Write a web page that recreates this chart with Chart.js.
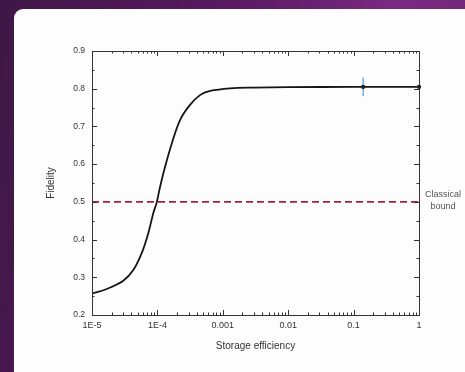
<!DOCTYPE html>
<html>
<head>
<meta charset="utf-8">
<script src="https://cdn.jsdelivr.net/npm/chart.js@4/dist/chart.umd.min.js"></script>
<style>
  html, body { margin: 0; padding: 0; }
  body {
    width: 465px; height: 372px; overflow: hidden; position: relative;
    background: linear-gradient(100deg, #3e1745 0%, #5a1a62 45%, #7a2a82 75%, #6a2472 100%);
  }
  #panel {
    position: absolute; left: 14px; top: 9px; width: 460px; height: 380px;
    background: #fdfdfd; border-radius: 9px;
  }
  #wrap { position: absolute; left: 0; top: 0; width: 465px; height: 372px; }
</style>
</head>
<body>
<div id="panel"></div>
<div id="wrap"><canvas id="chart" width="465" height="372"></canvas></div>
<script>
// fidelity vs storage efficiency
const efficiency = [1e-5, 1.68e-5, 3.01e-5, 4.28e-5, 5.75e-5, 7.26e-5, 8.65e-5, 9.75e-5,
    1.10e-4, 1.31e-4, 1.66e-4, 2.22e-4, 3.15e-4, 4.48e-4, 6.37e-4, 1.29e-3, 3e-3, 1e-2, 0.1, 1];
const fidelity = [0.257, 0.269, 0.291, 0.319, 0.364, 0.417, 0.47, 0.498,
    0.54, 0.593, 0.655, 0.717, 0.757, 0.783, 0.794, 0.801, 0.803, 0.804, 0.805, 0.805];

const boundX = [1e-5, 1];
const boundY = [0.5, 0.5];
const boundLabel = ['Classical', 'bound'];

const measX = [0.14, 1];
const measY = [0.805, 0.805];
const errLow = [0.78];
const errHigh = [0.83];

const xTicks = [1e-5, 1e-4, 1e-3, 1e-2, 1e-1, 1];
const xTickLabels = ['1E-5', '1E-4', '0.001', '0.01', '0.1', '1'];
const yTicks = [0.2, 0.3, 0.4, 0.5, 0.6, 0.7, 0.8, 0.9];

const xTitle = 'Storage efficiency';
const yTitle = 'Fidelity';

const FONT = '"Liberation Sans", Arial, sans-serif';
const AXIS = '#333';

// inward ticks on all four sides + the side label
const frameTicks = {
    id: 'frameTicks',
    afterDraw(chart) {
        const c = chart.ctx;
        const a = chart.chartArea;
        const xs = chart.scales.x, ys = chart.scales.y;
        c.save();
        c.strokeStyle = AXIS;
        c.lineWidth = 1;
        c.beginPath();
        // x ticks, majors and log minors
        for (let d = -5; d <= 0; d++) {
            for (let m = 1; m <= 9; m++) {
                const v = m * Math.pow(10, d);
                if (v > 1.0001) break;
                const px = Math.round(xs.getPixelForValue(v)) + 0.5;
                const len = m === 1 ? 5 : 2.5;
                c.moveTo(px, a.bottom); c.lineTo(px, a.bottom - len);
                c.moveTo(px, a.top); c.lineTo(px, a.top + len);
            }
        }
        // y ticks, majors and halves
        for (let i = 0; i <= 14; i++) {
            const v = 0.2 + i * 0.05;
            const py = Math.round(ys.getPixelForValue(v)) + 0.5;
            const len = i % 2 === 0 ? 5 : 2.5;
            c.moveTo(a.left, py); c.lineTo(a.left + len, py);
            c.moveTo(a.right, py); c.lineTo(a.right - len, py);
        }
        c.stroke();
        // box
        c.strokeRect(Math.round(a.left) + 0.5, Math.round(a.top) + 0.5,
            Math.round(a.right - a.left), Math.round(a.bottom - a.top));

        // measured point with its error bar
        c.strokeStyle = '#6fb0e0';
        c.lineWidth = 1.5;
        c.beginPath();
        const ex = xs.getPixelForValue(measX[0]);
        c.moveTo(ex, ys.getPixelForValue(errLow[0]));
        c.lineTo(ex, ys.getPixelForValue(errHigh[0]));
        c.stroke();
        c.fillStyle = '#222';
        for (let i = 0; i < measX.length; i++) {
            c.beginPath();
            c.arc(xs.getPixelForValue(measX[i]), ys.getPixelForValue(measY[i]), 2.2, 0, Math.PI * 2);
            c.fill();
        }

        c.fillStyle = '#555';
        c.font = '9px ' + FONT;
        c.textAlign = 'center';
        c.textBaseline = 'middle';
        const by = ys.getPixelForValue(boundY[0]);
        c.fillText(boundLabel[0], a.right + 24, by - 7);
        c.fillText(boundLabel[1], a.right + 24, by + 5);
        c.restore();
    }
};

const ctx = document.getElementById('chart').getContext('2d');
new Chart(ctx, {
    type: 'line',
    data: {
        datasets: [{
            label: 'fidelity',
            data: efficiency.map((x, i) => ({ x: x, y: fidelity[i] })),
            borderColor: '#161616',
            borderWidth: 1.8,
            pointRadius: 0,
            tension: 0.35
        }, {
            label: 'classical bound',
            data: boundX.map((x, i) => ({ x: x, y: boundY[i] })),
            borderColor: '#a8203a',
            borderWidth: 1.6,
            borderDash: [7, 4],
            pointRadius: 0
        }]
    },
    plugins: [frameTicks],
    options: {
        responsive: false,
        animation: false,
        layout: { padding: { left: 45, right: 46, top: 51, bottom: 16 } },
        plugins: { legend: { display: false }, tooltip: { enabled: false } },
        scales: {
            x: {
                type: 'logarithmic',
                min: 1e-5,
                max: 1,
                afterBuildTicks: s => { s.ticks = xTicks.map(v => ({ value: v })); },
                afterFit: s => { s.height = 41; },
                grid: { display: false, drawTicks: false },
                border: { display: false },
                ticks: {
                    autoSkip: false,
                    maxRotation: 0,
                    padding: 5,
                    color: '#333',
                    font: { family: FONT, size: 9 },
                    callback: (v) => {
                        const i = xTicks.findIndex(t => Math.abs(t - v) / t < 1e-6);
                        return i >= 0 ? xTickLabels[i] : '';
                    }
                },
                title: {
                    display: true, text: xTitle, color: '#333',
                    font: { family: FONT, size: 10 }, padding: { top: 7 }
                }
            },
            y: {
                min: 0.2,
                max: 0.9,
                afterBuildTicks: s => { s.ticks = yTicks.map(v => ({ value: v })); },
                afterFit: s => { s.width = 47; },
                grid: { display: false, drawTicks: false },
                border: { display: false },
                ticks: {
                    padding: 7,
                    color: '#333',
                    font: { family: FONT, size: 8.5 },
                    callback: v => v.toFixed(1)
                },
                title: {
                    display: true, text: yTitle, color: '#333',
                    font: { family: FONT, size: 10 }, padding: { top: 0, bottom: 0 }
                }
            }
        }
    }
});
</script>
</body>
</html>
